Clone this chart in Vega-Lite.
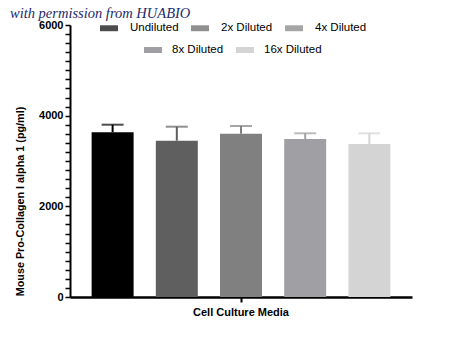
{
  "$schema": "https://vega.github.io/schema/vega-lite/v6.json",
  "width": 342,
  "height": 272,
  "autosize": {"type": "none"},
  "padding": {"left": 70, "top": 25, "right": 38, "bottom": 40},
  "background": "white",
  "config": {"view": {"stroke": null},
    "axisY": {"grid": false, "domainColor": "black", "domainWidth": 2, "tickColor": "black", "tickWidth": 1.5, "tickSize": 5,
      "labelFont": "Liberation Sans", "labelFontWeight": "bold", "labelFontSize": 11, "labelColor": "black", "labelPadding": 2, "labelFlush": false, "labelOverlap": false,
      "titleFont": "Liberation Sans", "titleFontWeight": "bold", "titleFontSize": 10.8, "titleColor": "black", "titleAlign": "center", "titleBaseline": "middle"}},
  "title": {"text": "with permission from HUABIO", "anchor": "start", "frame": "group", "font": "Liberation Serif", "fontStyle": "italic", "fontWeight": "normal", "fontSize": 14.5, "color": "#1c2a6b", "dx": -60, "dy": 8, "offset": 6},
  "data": {"values": [
    {"group": "Cell Culture Media", "dilution": "Undiluted", "mean": 3633, "upper": 3801},
    {"group": "Cell Culture Media", "dilution": "2x Diluted", "mean": 3448, "upper": 3757},
    {"group": "Cell Culture Media", "dilution": "4x Diluted", "mean": 3602, "upper": 3772},
    {"group": "Cell Culture Media", "dilution": "8x Diluted", "mean": 3485, "upper": 3611},
    {"group": "Cell Culture Media", "dilution": "16x Diluted", "mean": 3375, "upper": 3611}
  ]},
  "encoding": {
    "x": {"field": "group", "type": "nominal", "scale": {"paddingInner": 0, "paddingOuter": 0},
      "axis": {"title": null, "labelAngle": 0, "domainColor": "black", "domainWidth": 2.5, "tickColor": "black", "tickWidth": 2, "tickSize": 5, "labelFont": "Liberation Sans", "labelFontWeight": "bold", "labelFontSize": 11, "labelColor": "black", "labelPadding": 4}},
    "xOffset": {"field": "dilution", "type": "nominal", "scale": {"domain": ["Undiluted", "2x Diluted", "4x Diluted", "8x Diluted", "16x Diluted"], "paddingInner": 0.346, "paddingOuter": 0.337}}
  },
  "layer": [
    {
      "mark": {"type": "bar", "strokeWidth": 0},
      "encoding": {
        "y": {"field": "mean", "type": "quantitative", "scale": {"domain": [0, 6000], "nice": false},
          "axis": {"title": "Mouse Pro-Collagen I alpha 1 (pg/ml)", "titleX": -50, "titleY": 176, "values": [0,200,400,600,800,1000,1200,1400,1600,1800,2000,2200,2400,2600,2800,3000,3200,3400,3600,3800,4000,4200,4400,4600,4800,5000,5200,5400,5600,5800,6000],
            "labelExpr": "datum.value % 2000 == 0 ? format(datum.value, 'd') : ''"}},
        "fill": {"field": "dilution", "type": "nominal",
          "scale": {"domain": ["Undiluted", "2x Diluted", "4x Diluted", "8x Diluted", "16x Diluted"], "range": ["#000000", "#5f5f5f", "#808080", "#a0a0a4", "#d4d4d4"]},
          "legend": {"values": ["Undiluted", "2x Diluted", "4x Diluted"], "orient": "none", "direction": "horizontal", "legendX": 30, "legendY": -6, "title": null,
            "symbolType": "M-1,-0.33H1V0.33H-1Z", "symbolSize": 324, "symbolStrokeWidth": 0, "symbolOpacity": 1, "labelFont": "Liberation Sans", "labelFontSize": 11.5, "labelColor": "black", "labelOffset": 12, "columnPadding": 12}},
        "stroke": {"field": "dilution", "type": "nominal",
          "scale": {"domain": ["8x Diluted", "16x Diluted", "Undiluted", "2x Diluted", "4x Diluted"], "range": ["#a0a0a4", "#d4d4d4", "#000000", "#5f5f5f", "#808080"]},
          "legend": {"values": ["8x Diluted", "16x Diluted"], "orient": "none", "direction": "horizontal", "legendX": 71, "legendY": 13, "title": null,
            "symbolType": "M-1,0H1", "symbolSize": 324, "symbolStrokeWidth": 6, "symbolOpacity": 1, "labelFont": "Liberation Sans", "labelFontSize": 11.5, "labelColor": "black", "labelOffset": 7, "columnPadding": 0}}
      }
    },
    {
      "mark": {"type": "rule", "strokeWidth": 2},
      "encoding": {
        "y": {"field": "mean", "type": "quantitative",
          "axis": {"title": "Mouse Pro-Collagen I alpha 1 (pg/ml)", "titleX": -50, "titleY": 176, "values": [0,200,400,600,800,1000,1200,1400,1600,1800,2000,2200,2400,2600,2800,3000,3200,3400,3600,3800,4000,4200,4400,4600,4800,5000,5200,5400,5600,5800,6000],
            "labelExpr": "datum.value % 2000 == 0 ? format(datum.value, 'd') : ''"}},
        "y2": {"field": "upper"},
        "stroke": {"field": "dilution", "type": "nominal"}
      }
    },
    {
      "mark": {"type": "tick", "thickness": 2, "size": 22},
      "encoding": {
        "y": {"field": "upper", "type": "quantitative",
          "axis": {"title": "Mouse Pro-Collagen I alpha 1 (pg/ml)", "titleX": -50, "titleY": 176, "values": [0,200,400,600,800,1000,1200,1400,1600,1800,2000,2200,2400,2600,2800,3000,3200,3400,3600,3800,4000,4200,4400,4600,4800,5000,5200,5400,5600,5800,6000],
            "labelExpr": "datum.value % 2000 == 0 ? format(datum.value, 'd') : ''"}},
        "fill": {"field": "dilution", "type": "nominal"}
      }
    }
  ]
}
